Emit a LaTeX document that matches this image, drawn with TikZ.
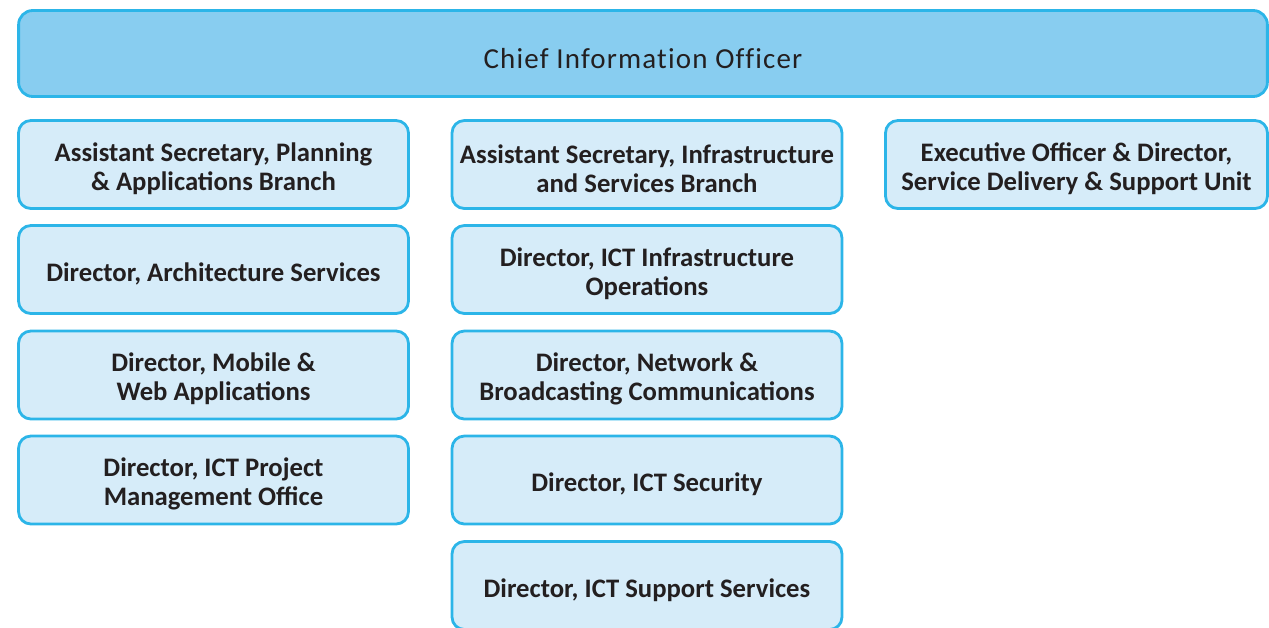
\documentclass[tikz,border=0pt]{standalone}
\usepackage{fontspec}
\setmainfont{Carlito}
\newfontfamily\titlefont[LetterSpace=4, RawFeature=-liga]{Carlito}
\definecolor{cioblue}{HTML}{88CDF0}
\definecolor{unitblue}{HTML}{D6ECF9}
\definecolor{rimblue}{HTML}{2CB5E8}
\definecolor{inkgrey}{HTML}{231F20}

\begin{document}
\begin{tikzpicture}[x=0.02cm, y=-0.02cm,
  unitbox/.style={draw=rimblue, fill=unitblue, line width=1.6pt, rounded corners=7pt,
    minimum width=7.8cm, minimum height=1.76cm, align=center, text height=15.5pt,
    font=\fontsize{15.2}{16.5}\selectfont\bfseries, text=inkgrey},
  twoline/.style={unitbox, text height=31.5pt},
  ciobox/.style={draw=rimblue, fill=cioblue, line width=1.6pt, rounded corners=8pt,
    minimum width=24.98cm, minimum height=1.72cm, text height=17pt, text depth=0pt,
    font=\titlefont\fontsize{16.5}{20}\selectfont, text=inkgrey}]
 \useasboundingbox (0,0) rectangle (1269,627);
 \node [ciobox] (cio) at (643,53.5) {Chief Information Officer};
 \begin {scope}
  \node [twoline] (planning) at (213.5,164.5) {Assistant Secretary, Planning\\ \& Applications Branch};
  \node [unitbox] (architecture) at (213.5,269.5) {Director, Architecture Services};
  \node [twoline] (mobile) at (213.5,375) {Director, Mobile \&\\ Web Applications};
  \node [twoline] (pmo) at (213.5,480) {Director, ICT Project\\ Management Office};
 \end {scope}
 \begin {scope}
  \node [twoline] (infra) at (647,164.5) {Assistant Secretary, Infrastructure\\ and Services Branch};
  \node [twoline] (operations) at (647,269.5) {Director, ICT Infrastructure\\ Operations};
  \node [twoline] (network) at (647,375) {Director, Network \&\\ Broadcasting Communications};
  \node [unitbox] (security) at (647,480) {Director, ICT Security};
  \node [unitbox] (support) at (647,585.5) {Director, ICT Support Services};
 \end {scope}
 \node [twoline, minimum width=7.64cm] (delivery) at (1076.5,164.5) {Executive Officer \& Director,\\ Service Delivery \& Support Unit};
\end{tikzpicture}
\end{document}
